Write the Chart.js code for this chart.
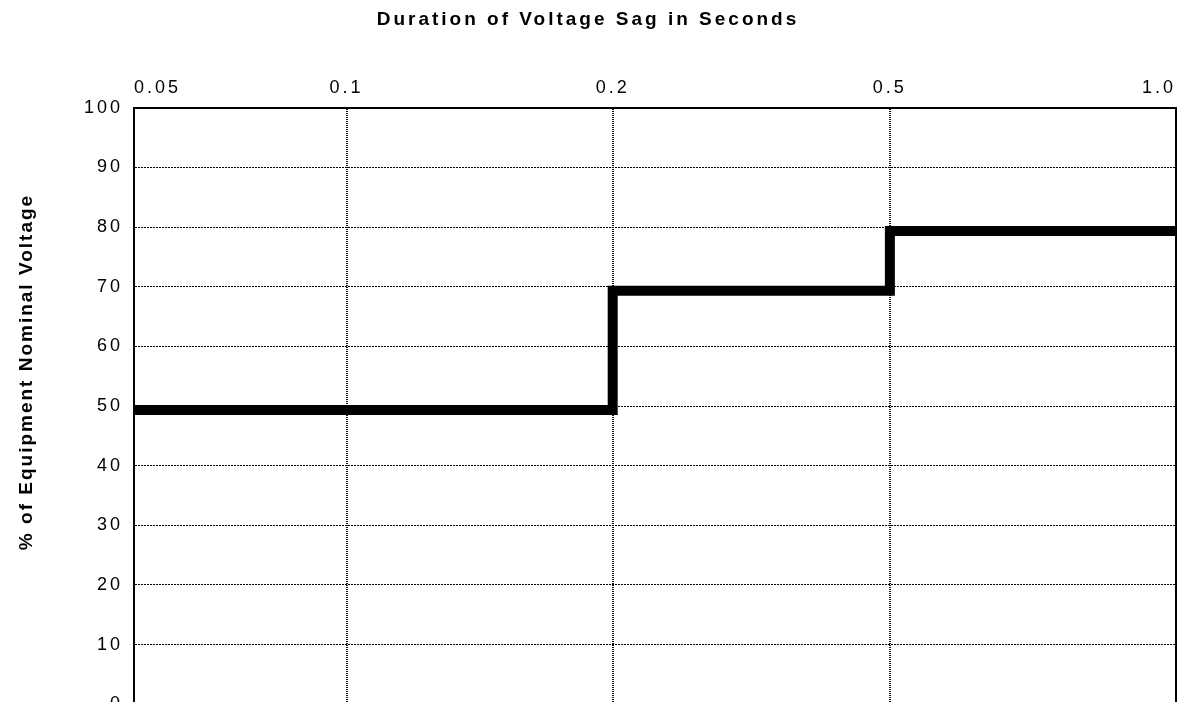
<!DOCTYPE html>
<html>
<head>
<meta charset="utf-8">
<script src="https://cdn.jsdelivr.net/npm/chart.js@4.4.1/dist/chart.umd.min.js"></script>
<style>
  html, body { margin: 0; padding: 0; background: #fff; overflow: hidden; }
  #wrap { width: 1180px; height: 726px; position: relative; }
</style>
</head>
<body>
<div id="wrap"><canvas id="sagChart"></canvas></div>
<script>
// duration ticks on the top axis (seconds)
const xTickValues = [0.05, 0.1, 0.2, 0.5, 1.0];
const xTickLabels = ['0.05', '0.1', '0.2', '0.5', '1.0'];

// sag tolerance curve: level holds from each start until the next one
const sagStart = [0.05, 0.2, 0.5, 1.0];
const sagVoltage = [50, 70, 80, 80];

const xTitle = 'Duration of Voltage Sag in Seconds';
const yTitle = '% of Equipment Nominal Voltage';

// axis with uneven spacing between the duration ticks, as in the original
class SegmentScale extends Chart.LinearScale {
    buildTicks() {
        return this.options.breaks.map(v => ({ value: v }));
    }
    getPixelForValue(value) {
        const b = this.options.breaks, s = this.options.stops;
        let i = 0;
        while (i < b.length - 2 && value > b[i + 1]) i++;
        const f = s[i] + (value - b[i]) / (b[i + 1] - b[i]) * (s[i + 1] - s[i]);
        return this.getPixelForDecimal(f);
    }
    getValueForPixel(pixel) {
        const b = this.options.breaks, s = this.options.stops;
        const f = this.getDecimalForPixel(pixel);
        let i = 0;
        while (i < s.length - 2 && f > s[i + 1]) i++;
        return b[i] + (f - s[i]) / (s[i + 1] - s[i]) * (b[i + 1] - b[i]);
    }
}
SegmentScale.id = 'segment';
SegmentScale.defaults = {};
Chart.register(SegmentScale);

const FONT = "'Liberation Sans', Arial, sans-serif";

const extras = {
    id: 'extras',
    beforeDraw(chart) {
        chart.ctx.letterSpacing = '3px';
    },
    beforeDatasetDraw(chart) {
        chart.ctx.save();
        chart.ctx.translate(0, 4);
    },
    afterDatasetDraw(chart) {
        chart.ctx.restore();
    },
    afterDraw(chart) {
        const ctx = chart.ctx, a = chart.chartArea;
        ctx.save();
        // right frame edge
        ctx.strokeStyle = '#000';
        ctx.lineWidth = 2;
        ctx.beginPath();
        ctx.moveTo(a.right, a.top);
        ctx.lineTo(a.right, a.bottom);
        ctx.stroke();
        // vertical axis title
        ctx.translate(27, 372);
        ctx.rotate(-Math.PI / 2);
        ctx.letterSpacing = '2px';
        ctx.fillStyle = '#000';
        ctx.font = 'bold 19px ' + FONT;
        ctx.textAlign = 'center';
        ctx.textBaseline = 'middle';
        ctx.fillText(yTitle, 0, 0);
        ctx.restore();
    }
};

new Chart(document.getElementById('sagChart'), {
    type: 'line',
    data: {
        datasets: [{
            data: sagStart.map((x, i) => ({ x: x, y: sagVoltage[i] })),
            stepped: 'before',
            borderColor: '#000',
            borderWidth: 10,
            borderJoinStyle: 'miter',
            borderCapStyle: 'butt',
            pointRadius: 0,
            fill: false,
            clip: false
        }]
    },
    options: {
        responsive: true,
        maintainAspectRatio: false,
        animation: false,
        layout: { padding: { left: 0, right: 4, top: 0, bottom: 0 } },
        plugins: {
            legend: { display: false },
            tooltip: { enabled: false },
            title: {
                display: true,
                text: xTitle,
                color: '#000',
                font: { family: FONT, size: 19, weight: 'bold' },
                padding: { top: 8, bottom: 0 }
            }
        },
        scales: {
            x: {
                type: 'segment',
                position: 'top',
                min: 0.05,
                max: 1.0,
                breaks: xTickValues,
                stops: [0, 0.204, 0.4594, 0.7254, 1],
                ticks: {
                    autoSkip: false,
                    maxRotation: 0,
                    align: 'inner',
                    padding: 9,
                    color: '#000',
                    font: { family: FONT, size: 18 },
                    callback: (v, i) => xTickLabels[i]
                },
                grid: { color: '#111', lineWidth: 2, drawTicks: false },
                border: { display: true, color: '#000', width: 2, dash: [1, 1] },
                afterFit: s => { s.height = 77; s.paddingLeft = 0; s.paddingRight = 0; }
            },
            y: {
                min: 0,
                max: 100,
                ticks: {
                    stepSize: 10,
                    padding: 11,
                    color: '#000',
                    font: { family: FONT, size: 18 }
                },
                grid: { color: '#000', lineWidth: 1, drawTicks: false },
                border: { display: true, color: '#000', width: 2, dash: [2, 1] },
                afterFit: s => { s.width = 134; }
            }
        }
    },
    plugins: [extras]
});
</script>
</body>
</html>
